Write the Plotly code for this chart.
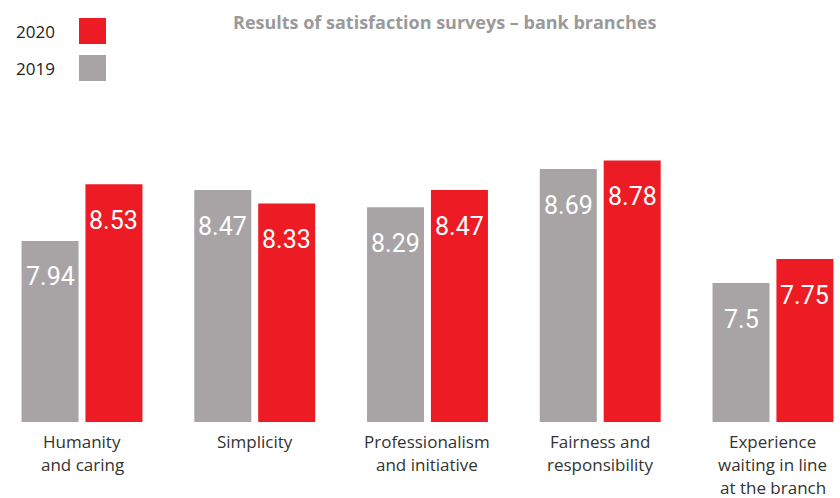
import plotly.graph_objects as go

# Survey data
categories = [
    ["Humanity", "and caring"],
    ["Simplicity"],
    ["Professionalism", "and initiative"],
    ["Fairness and", "responsibility"],
    ["Experience", "waiting in line", "at the branch"],
]
scores_2019 = [7.94, 8.47, 8.29, 8.69, 7.5]
scores_2020 = [8.53, 8.33, 8.47, 8.78, 7.75]
series_labels = ["2020", "2019"]

RED = "#ED1C24"
GRAY = "#A8A4A5"
W, H = 840, 498
M_T, M_B = 100, 76
PLOT_H = H - M_T - M_B
Y0, Y1 = 6.05, 9.41
X0, X1 = -0.4747, 4.388
BAR_W = 0.33
OFF_GRAY, OFF_RED = -0.35, 0.02

idx = list(range(len(categories)))
fig = go.Figure()
fig.add_trace(go.Bar(x=idx, y=scores_2019, base=0, width=BAR_W, offset=OFF_GRAY,
                     marker=dict(color=GRAY, line=dict(width=0)), name="2019",
                     showlegend=False, hoverinfo="skip"))
fig.add_trace(go.Bar(x=idx, y=scores_2020, base=0, width=BAR_W, offset=OFF_RED,
                     marker=dict(color=RED, line=dict(width=0)), name="2020",
                     showlegend=False, hoverinfo="skip"))

annotations = []
value_font = dict(family="Roboto, sans-serif", size=25, color="white")
for i, (a, b) in enumerate(zip(scores_2019, scores_2020)):
    annotations.append(dict(x=i + OFF_GRAY + BAR_W / 2, y=a, xref="x", yref="y",
                            text=f"{a:g}", showarrow=False, yshift=-36,
                            font=value_font, yanchor="middle"))
    annotations.append(dict(x=i + OFF_RED + BAR_W / 2, y=b, xref="x", yref="y",
                            text=f"{b:g}", showarrow=False, yshift=-36,
                            font=value_font, yanchor="middle"))

# Category labels, one line at a time for wider line spacing
cat_font = dict(family="Open Sans, sans-serif", size=17, color="#333333")
for i, lines in enumerate(categories):
    for j, line in enumerate(lines):
        annotations.append(dict(x=i, y=0, xref="x", yref="paper", text=line,
                                showarrow=False, yanchor="middle",
                                yshift=-(19 + 23 * j), font=cat_font))

# Title
annotations.append(dict(x=444 / W, y=(H - M_B - 22) / PLOT_H, xref="paper", yref="paper",
                        text="<b>Results of satisfaction surveys – bank branches</b>",
                        showarrow=False, xanchor="center", yanchor="middle",
                        font=dict(family="Open Sans, sans-serif", size=18, color="#9A9A9A")))


def py(pix):
    return (H - M_B - pix) / PLOT_H


# Legend: label followed by a swatch
shapes = []
for label, color, cy in zip(series_labels, [RED, GRAY], [31, 68]):
    annotations.append(dict(x=14 / W, y=py(cy), xref="paper", yref="paper", text=label,
                            showarrow=False, xanchor="left", yanchor="middle",
                            font=dict(family="Open Sans, sans-serif", size=17, color="#222222")))
    shapes.append(dict(type="rect", xref="paper", yref="paper",
                       x0=79 / W, x1=106 / W, y0=py(cy + 13), y1=py(cy - 13),
                       fillcolor=color, line=dict(width=0)))

fig.update_layout(
    width=W, height=H,
    margin=dict(l=0, r=0, t=M_T, b=M_B),
    paper_bgcolor="white", plot_bgcolor="white",
    barmode="overlay",
    xaxis=dict(range=[X0, X1], showticklabels=False, showgrid=False, zeroline=False,
               showline=False, ticks=""),
    yaxis=dict(range=[Y0, Y1], showticklabels=False, showgrid=False, zeroline=False,
               showline=False, ticks=""),
    annotations=annotations, shapes=shapes,
)
fig.write_html("out.html")
